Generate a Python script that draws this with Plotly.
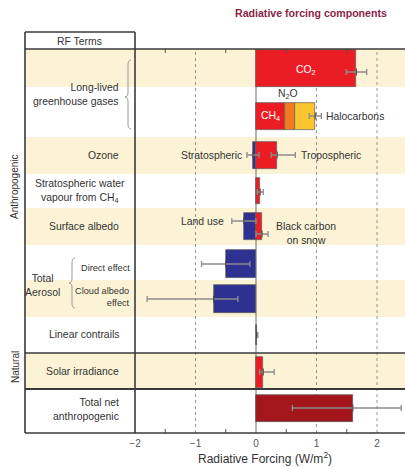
import plotly.graph_objects as go

# ---------------- radiative forcing estimates (W/m^2) ----------------
co2 = 1.66
co2_range = [1.49, 1.83]

ch4 = 0.48
n2o = 0.16
halocarbons = 0.34
ghg_other_range = [0.88, 1.08]

ozone_names = ["Stratospheric", "Tropospheric"]
ozone_values = [-0.05, 0.35]
ozone_lo = [-0.15, 0.25]
ozone_hi = [0.05, 0.65]

strat_h2o = 0.07
strat_h2o_range = [0.02, 0.12]

albedo_names = ["Land use", "Black carbon<br>on snow"]
albedo_values = [-0.2, 0.1]
albedo_lo = [-0.4, 0.0]
albedo_hi = [0.0, 0.2]

aerosol_values = [-0.5, -0.7]   # direct effect, cloud albedo effect
aerosol_lo = [-0.9, -1.8]
aerosol_hi = [-0.1, -0.3]

contrails = 0.01
contrails_range = [0.003, 0.03]

solar = 0.12
solar_range = [0.06, 0.30]

total_net = 1.6
total_net_range = [0.6, 2.4]

tick_values = [-2, -1, 0, 1, 2]
tick_labels = ["\u22122", "\u22121", "0", "1", "2"]
minor_ticks = [-1.5, -0.5, 0.5, 1.5]

# ---------------- layout geometry (pixels) ----------------
W, H = 405, 467
L, T, B = 25, 49, 433          # plot area edges
X0_PX, X_SCALE = 256, 60.5      # pixel of x=0, pixels per W/m^2
COL_RIGHT = 135                 # right edge of the label column

# y axis runs in pixel-like units so rows can be laid out directly
row_y = {
    "co2": 68, "ghg": 116, "ozone": 155, "h2o": 191, "albedo": 226,
    "direct": 264, "cloud": 299, "contrails": 335, "solar": 372, "total": 408,
}
shaded_rows = [(49, 87), (137, 174), (208, 245), (280, 317), (353, 389)]

RED = "#ec1c24"
ORANGE = "#f37b21"
YELLOW = "#fcc52e"
BLUE = "#2e3192"
DARKRED = "#a3171c"
CREAM = "#fcf3d6"
FRAME = "#3a3a3a"
TEXT = "#333333"
FONT = "Liberation Sans, Arial, sans-serif"


def px_x(px):
    return (px - X0_PX) / X_SCALE


def paper_x(px):
    return (px - L) / (W - L)


def paper_y(py):
    return (B - py) / (B - T)


fig = go.Figure()


def add_bar(value, y, thickness, color, base=0.0):
    fig.add_trace(go.Bar(
        x=[value], y=[y], base=[base], width=[thickness], orientation="h",
        marker=dict(color=color, line=dict(color="#5a5a5a", width=0.7)),
        hoverinfo="skip", showlegend=False,
    ))


def add_err(value, lo, hi, y):
    fig.add_trace(go.Scatter(
        x=[value], y=[y], mode="markers",
        marker=dict(symbol="line-ns", size=5, color="#444",
                    line=dict(color="#444", width=1)),
        error_x=dict(type="data", symmetric=False,
                     array=[hi - value], arrayminus=[value - lo],
                     color="#8c8c8c", thickness=1.3, width=3),
        hoverinfo="skip", showlegend=False,
    ))


# long-lived greenhouse gases
add_bar(co2, row_y["co2"], 37, RED)
add_err(co2, co2_range[0], co2_range[1], row_y["co2"] + 4)
add_bar(ch4, row_y["ghg"], 27, RED)
add_bar(n2o, row_y["ghg"], 27, ORANGE, base=ch4)
add_bar(halocarbons, row_y["ghg"], 27, YELLOW, base=ch4 + n2o)
ghg_sum = ch4 + n2o + halocarbons
add_err(ghg_sum, ghg_other_range[0], ghg_other_range[1], row_y["ghg"])

# ozone
for v, lo, hi in zip(ozone_values, ozone_lo, ozone_hi):
    add_bar(v, row_y["ozone"], 27, BLUE if v < 0 else RED)
for v, lo, hi in zip(ozone_values, ozone_lo, ozone_hi):
    add_err(v, lo, hi, row_y["ozone"])

# stratospheric water vapour
add_bar(strat_h2o, row_y["h2o"], 26, RED)
add_err(strat_h2o, strat_h2o_range[0], strat_h2o_range[1], row_y["h2o"] + 1)

# surface albedo
for v in albedo_values:
    add_bar(v, row_y["albedo"], 27, BLUE if v < 0 else RED)
albedo_err_y = [row_y["albedo"] - 5, row_y["albedo"] + 8]
for v, lo, hi, ey in zip(albedo_values, albedo_lo, albedo_hi, albedo_err_y):
    add_err(v, lo, hi, ey)

# aerosols
for v, lo, hi, key in zip(aerosol_values, aerosol_lo, aerosol_hi, ["direct", "cloud"]):
    add_bar(v, row_y[key], 28, BLUE)
    add_err(v, lo, hi, row_y[key])

# linear contrails
add_bar(contrails, row_y["contrails"], 20, "#555555")
add_err(contrails, contrails_range[0], contrails_range[1], row_y["contrails"])

# solar irradiance
add_bar(solar, row_y["solar"], 31, RED)
add_err(solar, solar_range[0], solar_range[1], row_y["solar"])

# total net anthropogenic
add_bar(total_net, row_y["total"], 27, DARKRED)
add_err(total_net, total_net_range[0], total_net_range[1], row_y["total"])

# ---------------- frame, bands and grid ----------------
shapes = []
for y0, y1 in shaded_rows:
    shapes.append(dict(type="rect", xref="paper", yref="paper",
                       x0=0, x1=1, y0=paper_y(y1), y1=paper_y(y0),
                       fillcolor=CREAM, line=dict(width=0), layer="below"))

for xv in [-1, 1, 2]:
    shapes.append(dict(type="line", xref="x", yref="paper", x0=xv, x1=xv,
                       y0=0, y1=1, line=dict(color="#8a8a8a", width=0.9, dash="3px,3px"),
                       layer="below"))
shapes.append(dict(type="line", xref="x", yref="paper", x0=0, x1=0, y0=0, y1=1,
                   line=dict(color="#6a6a6a", width=1), layer="below"))

for xv in minor_ticks:
    shapes.append(dict(type="line", xref="x", yref="paper", x0=xv, x1=xv,
                       y0=1, y1=1 - 4 / (B - T), line=dict(color="#555", width=1)))
    shapes.append(dict(type="line", xref="x", yref="paper", x0=xv, x1=xv,
                       y0=0, y1=4 / (B - T), line=dict(color="#555", width=1)))

# outer frame and label column
top_box = paper_y(32)
shapes += [
    dict(type="line", xref="paper", yref="paper", x0=0, x1=0, y0=0, y1=top_box,
         line=dict(color=FRAME, width=1.6)),
    dict(type="line", xref="paper", yref="paper", x0=paper_x(COL_RIGHT), x1=paper_x(COL_RIGHT),
         y0=0, y1=top_box, line=dict(color=FRAME, width=1.6)),
    dict(type="line", xref="paper", yref="paper", x0=0, x1=paper_x(COL_RIGHT),
         y0=top_box, y1=top_box, line=dict(color=FRAME, width=1.6)),
    dict(type="line", xref="paper", yref="paper", x0=0, x1=1, y0=1, y1=1,
         line=dict(color=FRAME, width=1.6)),
    dict(type="line", xref="paper", yref="paper", x0=0, x1=1,
         y0=paper_y(353), y1=paper_y(353), line=dict(color=FRAME, width=1.4)),
    dict(type="line", xref="paper", yref="paper", x0=0, x1=1,
         y0=paper_y(389), y1=paper_y(389), line=dict(color=FRAME, width=1.8)),
    dict(type="line", xref="paper", yref="paper", x0=0, x1=1, y0=0, y1=0,
         line=dict(color=FRAME, width=1.6)),
]


def brace(xr, xl, yt, yb, ym):
    xm = (xr + xl) / 2
    r = 5
    pts = [
        f"M {paper_x(xr)},{paper_y(yt)}",
        f"Q {paper_x(xm)},{paper_y(yt)} {paper_x(xm)},{paper_y(yt + r)}",
        f"L {paper_x(xm)},{paper_y(ym - r)}",
        f"Q {paper_x(xm)},{paper_y(ym)} {paper_x(xl)},{paper_y(ym)}",
        f"Q {paper_x(xm)},{paper_y(ym)} {paper_x(xm)},{paper_y(ym + r)}",
        f"L {paper_x(xm)},{paper_y(yb - r)}",
        f"Q {paper_x(xm)},{paper_y(yb)} {paper_x(xr)},{paper_y(yb)}",
    ]
    return dict(type="path", xref="paper", yref="paper", path=" ".join(pts),
                line=dict(color="#9a9a9a", width=1))


shapes.append(brace(131, 125, 60, 129, 97))
shapes.append(brace(75, 69, 258, 308, 283))

# ---------------- text ----------------
ann = []


def label(text, px, py, anchor="right", size=10.4, color=TEXT, angle=0, bold=False):
    if bold:
        text = f"<b>{text}</b>"
    ann.append(dict(text=text, xref="paper", yref="paper", x=paper_x(px), y=paper_y(py),
                    xanchor=anchor, yanchor="middle", align=anchor if anchor != "center" else "center",
                    showarrow=False, textangle=angle,
                    font=dict(family=FONT, size=size, color=color)))


label("Radiative forcing components", 311, 13, anchor="center", size=10.6,
      color="#8b1f47", bold=True)
label("RF Terms", 79, 41, anchor="center", size=10.4)
label("Long-lived<br>greenhouse gases", 121, 94)
label("Ozone", 121, 155)
label("Stratospheric water<br>vapour from CH<sub>4</sub>", 80, 191, anchor="center")
label("Surface albedo", 121, 226)
label("Total<br>Aerosol", 42, 285, anchor="center")
label("Direct effect", 132, 268, size=9.2)
label("Cloud albedo<br>effect", 132, 297, size=9.2)
label("Linear contrails", 121, 334)
label("Solar irradiance", 121, 371)
label("Total net<br>anthropogenic", 121, 409)
label("Anthropogenic", 14, 187, anchor="center", angle=-90, size=10)
label("Natural", 15, 367, anchor="center", angle=-90, size=10)
label("Radiative Forcing (W/m<sup>2</sup>)", 265, 458, anchor="center", size=12)


def tag(text, x, y, anchor, xshift=0, color=TEXT, size=10.4):
    ann.append(dict(text=text, xref="x", yref="y", x=x, y=y, xanchor=anchor,
                    yanchor="middle", align="center", xshift=xshift, showarrow=False,
                    font=dict(family=FONT, size=size, color=color)))


tag("CO<sub>2</sub>", co2 / 2, row_y["co2"] + 2, "center", color="white")
tag("CH<sub>4</sub>", ch4 / 2, row_y["ghg"], "center", color="white")
tag("N<sub>2</sub>O", ch4 + n2o / 2, 94, "center", xshift=-2)
tag("Halocarbons", ghg_other_range[1], row_y["ghg"], "left", xshift=3)
tag(ozone_names[0], ozone_lo[0], row_y["ozone"], "right", xshift=-3)
tag(ozone_names[1], ozone_hi[1], row_y["ozone"], "left", xshift=4)
tag(albedo_names[0], albedo_lo[0], albedo_err_y[0], "right", xshift=-6)
tag(albedo_names[1], albedo_hi[1], row_y["albedo"] + 7, "left", xshift=6)

fig.update_layout(
    width=W, height=H,
    margin=dict(l=L, r=0, t=T, b=H - B, pad=0),
    paper_bgcolor="white", plot_bgcolor="white",
    barmode="overlay", bargap=0,
    showlegend=False,
    xaxis=dict(range=[px_x(L), px_x(W)], tickvals=tick_values, ticktext=tick_labels,
               showgrid=False, zeroline=False, showline=False, ticks="",
               ticklabelstandoff=3,
               tickfont=dict(family=FONT, size=10, color="#555"), fixedrange=True),
    yaxis=dict(range=[B, T], showgrid=False, zeroline=False, showline=False,
               showticklabels=False, ticks="", fixedrange=True),
    shapes=shapes,
    annotations=ann,
    font=dict(family=FONT, color=TEXT),
)

fig.write_html("out.html")
